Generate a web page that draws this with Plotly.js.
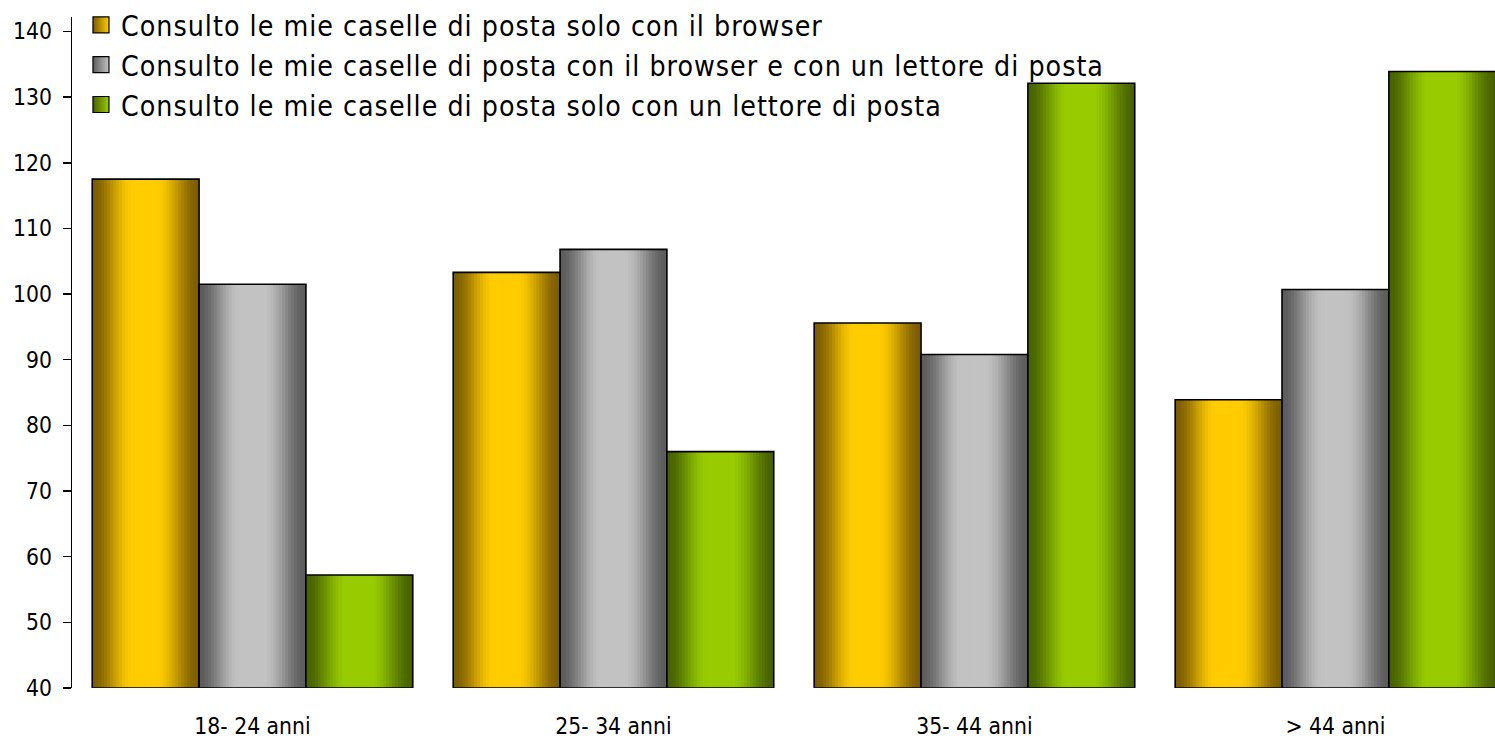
<!DOCTYPE html>
<html>
<head>
<meta charset="utf-8">
<script src="https://cdn.plot.ly/plotly-3.0.1.min.js"></script>
<style>
  html, body { margin: 0; padding: 0; background: #ffffff; overflow: hidden; }
  #chart { width: 1495px; height: 740px; }
  #chart .legendtext { letter-spacing: 1px; }
  #chart .legend .scrollbox { clip-path: none !important; }
</style>
</head>
<body>
<div id="chart"></div>
<script>
// Fasce d'età
const categories = ['18- 24 anni', '25- 34 anni', '35- 44 anni', '> 44 anni'];

// Nomi delle serie
const seriesNames = [
  'Consulto le mie caselle di posta solo con il browser',
  'Consulto le mie caselle di posta con il browser e con un lettore di posta',
  'Consulto le mie caselle di posta solo con un lettore di posta'
];

// Valori per fascia d'età
const soloBrowser      = [117.5, 103.3, 95.6, 83.9];
const browserELettore  = [101.5, 106.8, 90.8, 100.7];
const soloLettore      = [57.2, 76.0, 132.1, 133.9];

const seriesValues = [soloBrowser, browserELettore, soloLettore];

// Colori dei cilindri: tono scuro ai bordi, tono chiaro al centro
const palette = [
  { dark: [124, 93, 0],  light: [255, 204, 0] },
  { dark: [92, 92, 92],  light: [194, 194, 194] },
  { dark: [72, 98, 0],   light: [153, 204, 0] }
];

const FONT = 'DejaVu Sans Condensed, DejaVu Sans, sans-serif';
const AXIS_MIN = 40;
const barW = 0.296;          // larghezza di ogni barra (unità di categoria)
const slices = 36;           // strisce verticali per la sfumatura

function rgb(c) { return 'rgb(' + c.map(Math.round).join(',') + ')'; }
function mix(a, b, f) { return [0, 1, 2].map(i => a[i] + (b[i] - a[i]) * f); }
function ease(x) { return x * x * (3 - 2 * x); }
// profilo orizzontale della luce: scuro -> chiaro -> scuro
function light(t) {
  if (t < 0.38) return ease(t / 0.38);
  if (t < 0.6) return 1;
  return ease((1 - t) / 0.4);
}

const traces = [];

// voci di legenda (quadratino sfumato da scuro a chiaro)
seriesValues.forEach((vals, s) => {
  traces.push({
    type: 'scatter', mode: 'markers',
    x: [null], y: [null],
    name: seriesNames[s],
    legendgroup: 'g' + s,
    hoverinfo: 'skip',
    marker: {
      symbol: 'square', size: 16,
      color: rgb(palette[s].dark),
      gradient: { type: 'horizontal', color: rgb(palette[s].light) },
      line: { color: '#000', width: 1.2 }
    }
  });
});

// barre sfumate, una striscia alla volta
seriesValues.forEach((vals, s) => {
  const heights = vals.map(v => v - AXIS_MIN);
  const base = (s - 1.5) * barW;
  const sw = barW / slices;
  for (let k = 0; k < slices; k++) {
    const t = (k + 0.5) / slices;
    const w = (k === slices - 1) ? sw : sw * 1.6;
    traces.push({
      type: 'bar',
      x: categories, y: heights,
      base: AXIS_MIN,
      width: w, offset: base + k * sw,
      marker: { color: rgb(mix(palette[s].dark, palette[s].light, light(t))), line: { width: 0 } },
      showlegend: false, hoverinfo: 'skip'
    });
  }
  // contorno
  traces.push({
    type: 'bar',
    x: categories, y: heights,
    base: AXIS_MIN,
    width: barW, offset: base,
    marker: { color: 'rgba(0,0,0,0)', line: { color: '#000', width: 1.6 } },
    showlegend: false,
    name: seriesNames[s]
  });
});

const layout = {
  width: 1495, height: 740,
  paper_bgcolor: '#ffffff', plot_bgcolor: '#ffffff',
  margin: { l: 72, r: 0, t: 17, b: 52, autoexpand: false },
  barmode: 'overlay',
  showlegend: true,
  legend: {
    x: 0.0063, xanchor: 'left',
    y: 1, yref: 'container', yanchor: 'top',
    bgcolor: 'rgba(0,0,0,0)',
    font: { family: FONT, size: 28.3, color: '#000' },
    tracegroupgap: 0,
    itemsizing: 'trace'
  },
  xaxis: {
    type: 'category',
    range: [-0.5, 3.442],
    showline: false, showgrid: false, zeroline: false,
    ticks: '',
    tickfont: { family: FONT, size: 22.7, color: '#000' },
    ticklabelstandoff: 22
  },
  yaxis: {
    range: [AXIS_MIN, 142.2],
    tick0: AXIS_MIN, dtick: 10,
    showline: true, linecolor: '#000', linewidth: 1.5,
    ticks: 'outside', ticklen: 8, tickwidth: 1.5, tickcolor: '#000',
    showgrid: false, zeroline: false,
    tickfont: { family: FONT, size: 22.7, color: '#000' },
    ticklabelstandoff: 6
  }
};

Plotly.newPlot('chart', traces, layout, { displayModeBar: false, staticPlot: true });
</script>
</body>
</html>
